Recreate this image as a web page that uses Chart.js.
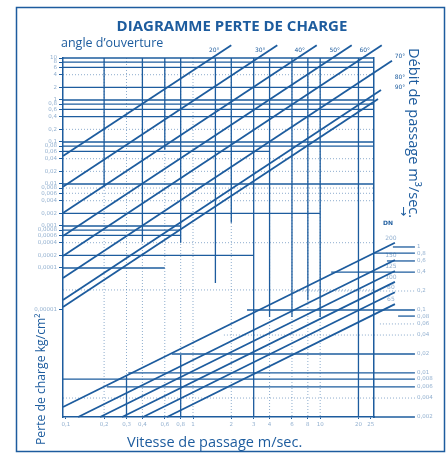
<!DOCTYPE html>
<html>
<head>
<meta charset="utf-8">
<script src="https://cdn.jsdelivr.net/npm/chart.js@4.4.1/dist/chart.umd.min.js"></script>
<style>
  html, body { margin: 0; padding: 0; background: #fff; }
  canvas { display: block; }
</style>
</head>
<body>
<canvas id="perteChart" width="448" height="454"></canvas>
<script>
const BLUE = '#1d5c9e';
const FAINT = 'rgba(29, 92, 158, 0.5)';

// axis ticks
const speedTicks = [0.1, 0.2, 0.3, 0.4, 0.6, 0.8, 1, 2, 3, 4, 6, 8, 10, 20, 25];
const lossTicks = [10, 8, 6, 4, 2, 1, 0.8, 0.6, 0.4, 0.2, 0.1, 0.08, 0.06, 0.04, 0.02, 0.01,
  0.008, 0.006, 0.004, 0.002, 0.001, 0.0008, 0.0006, 0.0004, 0.0002, 0.0001, 0.00001];
const flowTicks = [1, 0.8, 0.6, 0.4, 0.2, 0.1, 0.08, 0.06, 0.04, 0.02, 0.01, 0.008, 0.006, 0.004, 0.002];

const SPEED_MIN = 0.095, SPEED_MAX = 26.5;
const LOSS_MIN = 2.83e-8, LOSS_MAX = 10;
const FLOW_MIN = 0.002, FLOW_MAX = 1000;

// angle d'ouverture lines (vitesse m/s -> perte kg/cm2)
const angleLabels = ['20°', '30°', '40°', '50°', '60°', '70°', '80°', '90°'];
const angleSpeed = [
  [0.095, 2.0],
  [0.095, 4.6],
  [0.095, 9.4],
  [0.095, 17.7],
  [0.095, 30.5],
  [0.095, 36.7, 44],
  [0.095, 30.1, 36.7, 44],
  [0.095, 28.5, 32.9, 44]
];
const angleLoss = [
  [0.0464, 20],
  [0.00863, 20],
  [0.00204, 20],
  [0.000578, 20],
  [0.000193, 20],
  [5.78e-5, 8.6, 8.6],
  [1.73e-5, 1.73, 2.68, 2.68],
  [1.18e-5, 1.06, 1.55, 1.55]
];

// DN lines (vitesse m/s -> debit m3/s)
const dnLabels = ['200', '150', '125', '100', '80', '65'];
const dnSpeed = [[0.095, 38.7], [0.125, 38.7], [0.186, 38.7], [0.277, 38.7], [0.405, 38.7], [0.625, 38.7]];
const dnFlow = [[0.00288, 1.17], [0.002, 0.62], [0.002, 0.416], [0.002, 0.279], [0.002, 0.191], [0.002, 0.124]];

// horizontal reference lines, perte de charge
const lossLevels = [10, 8, 6, 2, 1, 0.8, 0.6, 0.4, 0.1, 0.08, 0.06, 0.01, 0.002, 0.001, 0.0008, 0.0006, 0.0002, 0.0001];
const lossLevelEnd = [26.5, 26.5, 26.5, 26.5, 26.5, 26.5, 26.5, 26.5, 26.5, 26.5, 4, 26.5, 10, 0.8, 0.8, 0.8, 3, 0.6];
const lossDotted = [4, 0.2, 0.04, 0.02, 0.008, 0.006, 0.004, 0.0004, 0.00003];

// horizontal reference lines, debit
const flowLevels = [1, 0.8, 0.6, 0.4, 0.1, 0.08, 0.02, 0.01, 0.008, 0.006, 0.002];
const flowFrom = [37.3, 26, 33.5, 12.2, 2.66, 41, 0.68, 0.31, 0.095, 0.21, 26.5];
const flowDotted = [0.2, 0.06, 0.04, 0.004];
const flowDottedFrom = [5.8, 29.5, 1.75, 0.095];
const FLOW_LINE_END = 55.6;

// vertical reference lines
const gridSpeed = [0.2, 0.4, 0.6, 0.8, 0.8, 0.3, 1.5, 2, 3, 4, 6, 8, 10, 20];
const gridTop = [10, 10, 10, 10, 8.5e-7, 2.83e-7, 10, 10, 10, 10, 10, 10, 10, 10];
const gridBottom = [0.0085, 4.2e-4, 0.065, 4e-4, 2.83e-8, 2.83e-8, 4.4e-5, 1.2e-3, 2.83e-8, 6.8e-6, 6.8e-6, 1.7e-5, 6.8e-6, 2.83e-8];
const dottedSpeed = [0.2, 0.3, 0.4, 0.6, 0.8, 1, 2, 4, 6, 8, 10];

const datasets = [];
function addLine(xs, ys, axis, width, color, dash) {
  datasets.push({
    data: xs.map((x, i) => ({ x: x, y: ys[i] })),
    yAxisID: axis,
    showLine: true,
    pointRadius: 0,
    borderColor: color,
    borderWidth: width,
    borderDash: dash || [],
    clip: false,
    fill: false
  });
}

dottedSpeed.forEach(s => addLine([s, s], [LOSS_MAX, LOSS_MIN], 'y', 1, FAINT, [1, 2]));
lossDotted.forEach(l => addLine([SPEED_MIN, SPEED_MAX], [l, l], 'y', 1, FAINT, [1, 2]));
flowDotted.forEach((q, i) => addLine([flowDottedFrom[i], FLOW_LINE_END], [q, q], 'yQ', 1, FAINT, [1, 2]));

gridSpeed.forEach((s, i) => addLine([s, s], [gridTop[i], gridBottom[i]], 'y', 1.3, BLUE));
lossLevels.forEach((l, i) => addLine([SPEED_MIN, lossLevelEnd[i]], [l, l], 'y', 1.3, BLUE));
flowLevels.forEach((q, i) => addLine([flowFrom[i], FLOW_LINE_END], [q, q], 'yQ', 1.3, BLUE));

angleSpeed.forEach((s, i) => addLine(s, angleLoss[i], 'y', 1.8, BLUE));
dnSpeed.forEach((s, i) => addLine(s, dnFlow[i], 'yQ', 1.8, BLUE));

function fmt(v) {
  return String(v).replace('.', ',');
}

// fixed axis box, no extra room asked for the edge labels
function fixBox(w, h) {
  return s => {
    if (w !== null) s.width = w;
    if (h !== null) s.height = h;
    s.paddingTop = 0;
    s.paddingBottom = 0;
    s.paddingLeft = 0;
    s.paddingRight = 0;
  };
}

const textPlugin = {
  id: 'texts',
  afterDraw(chart) {
    const c = chart.ctx;
    const xs = chart.scales.x, ys = chart.scales.y, yq = chart.scales.yQ;
    c.save();
    c.strokeStyle = BLUE;
    c.fillStyle = BLUE;
    c.lineWidth = 1.5;
    c.strokeRect(16.5, 7.5, 428, 444);

    c.textBaseline = 'alphabetic';
    c.textAlign = 'center';
    c.font = 'bold 15px "Open Sans"';
    c.fillText('DIAGRAMME PERTE DE CHARGE', 232, 30.5);

    c.textAlign = 'left';
    c.font = '12.5px "Open Sans"';
    c.fillText('angle d\u2019ouverture', 61, 47);

    c.font = '14.5px "Open Sans"';
    c.fillText('Vitesse de passage m/sec.', 127, 447);

    c.save();
    c.translate(45, 445);
    c.rotate(-Math.PI / 2);
    c.font = '12.2px "Open Sans"';
    c.fillText('Perte de charge kg/cm\u00b2', 0, 0);
    c.restore();

    c.save();
    c.translate(409, 48);
    c.rotate(Math.PI / 2);
    c.font = '14.6px "Open Sans"';
    c.fillText('D\u00e9bit de passage m\u00b3/sec.', 0, 0);
    c.restore();

    c.save();
    c.translate(400, 206);
    c.rotate(Math.PI / 2);
    c.font = '12px "DejaVu Sans"';
    c.fillText('\u2192', 0, 0);
    c.restore();

    c.font = 'bold 6px "DejaVu Sans"';
    c.textAlign = 'center';
    c.fillText('DN', 388, 225);

    c.font = '6px "DejaVu Sans"';
    angleSpeed.forEach((s, i) => {
      const n = s.length - 1;
      const ex = xs.getPixelForValue(s[n]);
      const ey = ys.getPixelForValue(angleLoss[i][n]);
      if (n === 1) c.fillText(angleLabels[i], ex - 17, ey + 7);
      else c.fillText(angleLabels[i], ex - 2, ey - 3);
    });
    c.fillStyle = FAINT;
    dnSpeed.forEach((s, i) => {
      const ex = xs.getPixelForValue(s[1]);
      const ey = yq.getPixelForValue(dnFlow[i][1]);
      c.fillText(dnLabels[i], ex - 4, ey - 3);
    });
    c.restore();
  }
};

const tickFont = { family: 'DejaVu Sans', size: 5.5 };

new Chart(document.getElementById('perteChart'), {
  type: 'scatter',
  data: { datasets: datasets },
  options: {
    responsive: false,
    animation: false,
    devicePixelRatio: 1,
    layout: { padding: { top: 58, left: 0, right: 0, bottom: 0 } },
    plugins: {
      legend: { display: false },
      tooltip: { enabled: false }
    },
    scales: {
      x: {
        type: 'logarithmic',
        position: 'bottom',
        min: SPEED_MIN,
        max: SPEED_MAX,
        afterFit: fixBox(null, 37),
        afterBuildTicks: ax => { ax.ticks = speedTicks.map(v => ({ value: v })); },
        grid: { drawOnChartArea: false, drawTicks: true, tickLength: 2, color: BLUE },
        border: { display: true, color: BLUE, width: 1.5 },
        ticks: {
          autoSkip: false, maxRotation: 0, minRotation: 0, padding: 2,
          color: FAINT, font: tickFont,
          callback: v => fmt(v)
        }
      },
      y: {
        type: 'logarithmic',
        position: 'left',
        min: LOSS_MIN,
        max: LOSS_MAX,
        afterFit: fixBox(63, null),
        afterBuildTicks: ax => { ax.ticks = lossTicks.map(v => ({ value: v })); },
        grid: { drawOnChartArea: false, drawTicks: true, tickLength: 4, color: BLUE },
        border: { display: true, color: BLUE, width: 1.5 },
        ticks: {
          autoSkip: false, padding: 2,
          color: FAINT, font: tickFont,
          callback: v => fmt(v)
        }
      },
      yQ: {
        type: 'logarithmic',
        position: 'right',
        min: FLOW_MIN,
        max: FLOW_MAX,
        afterFit: fixBox(74, null),
        afterBuildTicks: ax => { ax.ticks = flowTicks.map(v => ({ value: v })); },
        grid: { drawOnChartArea: false, drawTicks: false },
        border: { display: true, color: BLUE, width: 1.5 },
        ticks: {
          autoSkip: false, padding: 43,
          color: FAINT, font: tickFont,
          callback: v => fmt(v)
        }
      }
    }
  },
  plugins: [textPlugin]
});
</script>
</body>
</html>
